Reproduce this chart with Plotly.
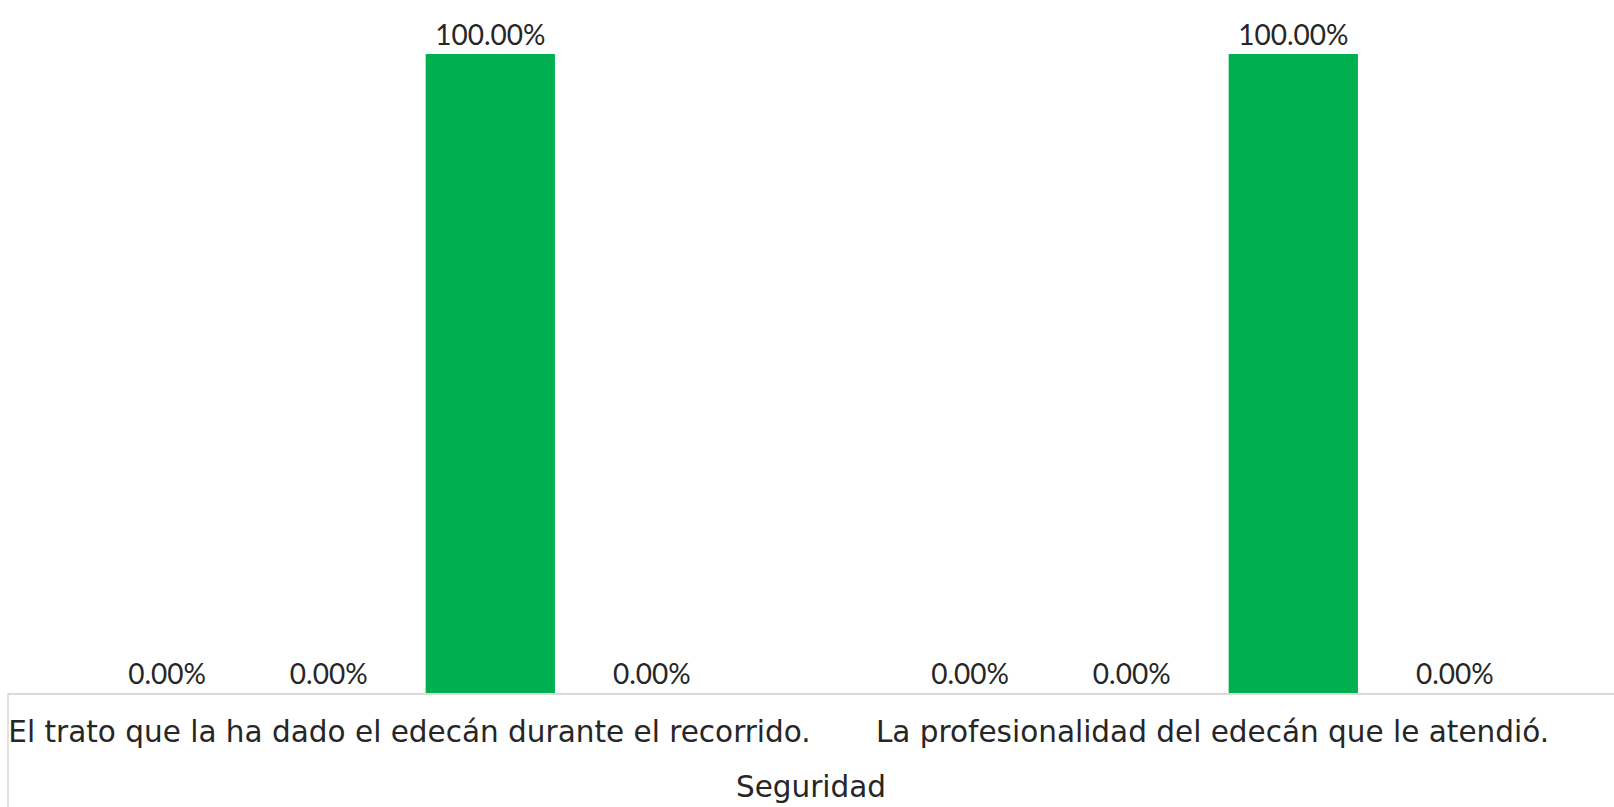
import plotly.graph_objects as go

# Axis title (question group) and the two survey questions
grupo = "Seguridad"
preguntas = [
    "El trato que la ha dado el edecán durante el recorrido.",
    "La profesionalidad del edecán que le atendió.",
]

# Share of answers per rating level for each question
series = ["Nivel 1", "Nivel 2", "Nivel 3", "Nivel 4"]
valores = [
    [0.0, 0.0],
    [0.0, 0.0],
    [1.0, 1.0],
    [0.0, 0.0],
]
colores = ["#C00000", "#FFC000", "#00B050", "#0070C0"]

LABEL_FONT = "Lato"
AXIS_FONT = "DejaVu Sans"
AXIS_SIZE = 29.5
TEXT_COLOR = "#262626"
LINE_COLOR = "#d9d9d9"

fig = go.Figure()
for nombre, vals, color in zip(series, valores, colores):
    fig.add_trace(go.Bar(
        name=nombre,
        x=preguntas,
        y=vals,
        marker=dict(color=color, line=dict(width=0)),
        texttemplate="%{y:.2%}",
        textposition="outside",
        textfont=dict(family=LABEL_FONT, size=28, color=TEXT_COLOR),
        cliponaxis=False,
    ))

# Left border of the category table below the axis
fig.add_shape(
    type="line", xref="paper", yref="paper",
    x0=0, x1=0, y0=0, y1=-114 / 639,
    line=dict(color=LINE_COLOR, width=1.5),
)

fig.update_layout(
    width=1614,
    height=807,
    margin=dict(l=8, r=0, t=54, b=114),
    paper_bgcolor="white",
    plot_bgcolor="white",
    barmode="group",
    bargap=0.195,
    bargroupgap=0.2,
    showlegend=False,
    font=dict(family=AXIS_FONT, size=AXIS_SIZE, color=TEXT_COLOR),
    xaxis=dict(
        type="category",
        showline=True,
        linecolor=LINE_COLOR,
        linewidth=1.5,
        ticks="",
        showgrid=False,
        automargin=False,
        ticklabelstandoff=12,
        tickfont=dict(family=AXIS_FONT, size=AXIS_SIZE, color=TEXT_COLOR),
        title=dict(
            text=grupo,
            standoff=28,
            font=dict(family=AXIS_FONT, size=AXIS_SIZE, color=TEXT_COLOR),
        ),
    ),
    yaxis=dict(
        range=[0, 1],
        visible=False,
        showgrid=False,
        zeroline=False,
    ),
)

fig.write_html("out.html")
